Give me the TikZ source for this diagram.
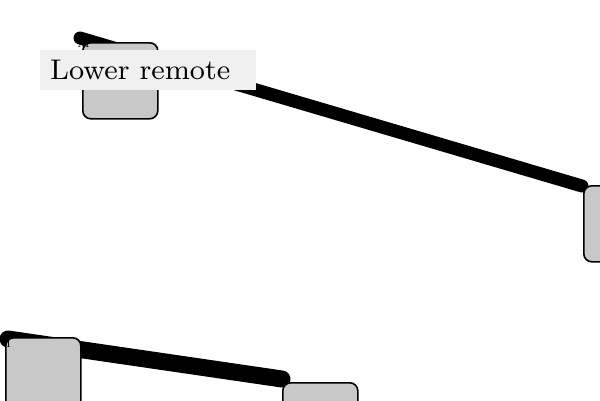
\documentclass[tikz,border=0pt]{standalone}
\usepackage{graphicx}
\begin{document}
\begin{tikzpicture}[x=1pt,y=-1pt,
  box/.style={draw=black,line width=1.6pt,fill=boxgray,rounded corners=8pt,minimum width=75pt,minimum height=76pt,inner sep=0pt,anchor=north west},
  wire/.style={line cap=round,draw=black},
  tag/.style={inner sep=0pt,font=\fontsize{15}{15}\selectfont}]
\definecolor{boxgray}{HTML}{C8C8C8}
\definecolor{labelbg}{HTML}{F0F0F0}
\useasboundingbox (0,0) rectangle (600,400);
\clip (0,0) rectangle (600,400);
\fill[white] (0,0) rectangle (600,400);
\coordinate (a0) at (80,38);
\coordinate (b0) at (582,186);
\coordinate (c0) at (8,339);
\coordinate (d0) at (282,379);
\draw[wire,line width=13pt] (a0) -- (b0);
\draw[wire,line width=17pt] (c0) -- (d0);
\node[box] (A) at (82,42) {};
\node[box] (B) at (583,185) {};
\node[box] (C) at (5,337) {};
\node[box] (D) at (282,382) {};
\node[tag,anchor=north west] (ta) at (77,37) {M};
\node[tag,anchor=north west] (tb) at (577,181) {I};
\node[tag,anchor=north west] (tc) at (6,337) {I};
\node[tag,anchor=north west] (td) at (275,375) {r};
\node[fill=labelbg,anchor=north west,minimum width=216pt,minimum height=40pt,inner sep=0pt] (L) at (40,50) {};
\node[anchor=west,inner sep=0pt] (Lt) at (50,70) {\resizebox{180pt}{!}{\fontsize{8}{9}\selectfont Lower remote}};
\end{tikzpicture}
\end{document}
